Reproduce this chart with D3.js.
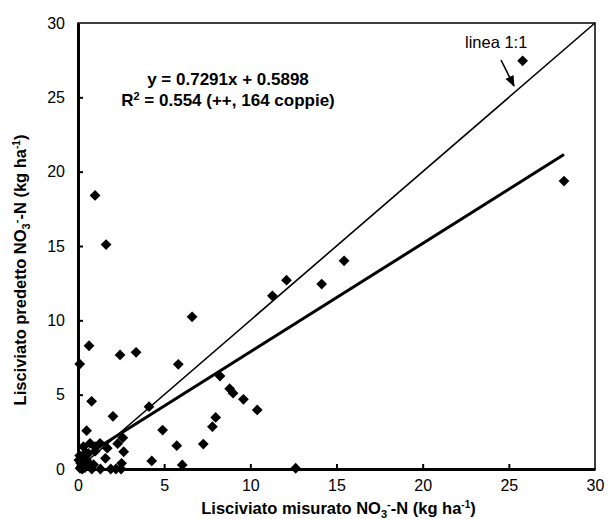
<!DOCTYPE html>
<html>
<head>
<meta charset="utf-8">
<script src="https://cdn.jsdelivr.net/npm/d3@7"></script>
<style>
	body { margin: 0; background: #fff; }
	text { font-family: "Liberation Sans", Arial, sans-serif; fill: #000; }
</style>
</head>
<body>
<div id="chart"></div>
<script>

// measured (x) and predicted (y) NO3-N leaching, kg/ha
var measured = [25.8, 28.2, 0.99, 1.63, 15.44, 12.1, 14.14, 11.28, 6.62, 0.64,
	0.1, 2.44, 3.37, 5.82, 8.24, 8.8, 9.0, 9.6, 10.4, 0.79,
	2.03, 4.12, 0.5, 4.91, 7.99, 7.8, 5.73, 7.27, 2.6, 2.3,
	2.65, 4.28, 6.05, 1.59, 2.53, 12.63,
	0.8, 1.3, 1.9, 2.2, 2.5,
	0.7, 1.28, 0.99, 0.31, 0.21, 0.6, 0.6, 0.12, 0.3, 0.1,
	0.4, 0.2, 1.0, 0.5, 0.15, 1.7, 0.9, 0.05, 0.45, 0.25];
var predicted = [27.46, 19.37, 18.4, 15.1, 14.0, 12.7, 12.44, 11.65, 10.24, 8.29,
	7.06, 7.67, 7.85, 7.04, 6.25, 5.4, 5.1, 4.69, 3.97, 4.55,
	3.54, 4.19, 2.58, 2.62, 3.47, 2.85, 1.57, 1.68, 2.1, 1.7,
	1.16, 0.54, 0.27, 0.72, 0.38, 0.05,
	0.0, 0.0, 0.0, 0.0, 0.0,
	1.73, 1.73, 1.5, 1.5, 0.72, 1.05, 0.38, 0.05, 0.3, 0.9,
	0.1, 0.2, 1.2, 0.6, 0.4, 1.4, 0.3, 0.6, 1.1, 0.0];

var xTicks = [0, 5, 10, 15, 20, 25, 30];
var yTicks = [0, 5, 10, 15, 20, 25, 30];

var slope = 0.7291, intercept = 0.5898;
var fitRange = [0, 28.2];
var oneToOne = [0, 30];

var eqLine = "y = 0.7291x + 0.5898";
var r2Line = ["R", "2", " = 0.554 (++, 164 coppie)"];

var margin = { top: 23, right: 14, bottom: 50, left: 78 };
var width = 609 - margin.left - margin.right,
	height = 519 - margin.top - margin.bottom;

var svg = d3.select("#chart").append("svg")
	.attr("width", 609)
	.attr("height", 519)
	.append("g")
	.attr("transform", "translate(" + margin.left + "," + margin.top + ")");

var x = d3.scaleLinear().domain([0, 30]).range([0, width]);
var y = d3.scaleLinear().domain([0, 30]).range([height, 0]);

// frame (top/right thin, left/bottom heavy)
svg.append("rect")
	.attr("width", width).attr("height", height)
	.attr("fill", "none").attr("stroke", "#000").attr("stroke-width", 1.5);

var xAxis = d3.axisBottom(x).tickValues(xTicks).tickSizeInner(-5).tickSizeOuter(0).tickPadding(11);
var yAxis = d3.axisLeft(y).tickValues(yTicks).tickSizeInner(-5).tickSizeOuter(0).tickPadding(13);

var gx = svg.append("g").attr("transform", "translate(0," + height + ")").call(xAxis);
var gy = svg.append("g").call(yAxis);

[gx, gy].forEach(g => {
	g.select(".domain").attr("stroke-width", 3);
	g.selectAll(".tick line").attr("stroke-width", 2);
	g.selectAll(".tick text").attr("font-size", 16).attr("fill", "#000")
		.style("font-family", '"Liberation Sans", Arial, sans-serif');
});
// no tick mark at the ends
gx.selectAll(".tick line").filter(d => d === 0 || d === 30).remove();
gy.selectAll(".tick line").filter(d => d === 0 || d === 30).remove();

// points
var pts = measured.map((m, i) => ({ x: m, y: predicted[i] }));
var diamond = d3.symbol().type(d3.symbolSquare).size(58);
svg.selectAll(".pt").data(pts).enter().append("path")
	.attr("class", "pt")
	.attr("d", diamond)
	.attr("transform", d => "translate(" + x(d.x) + "," + y(d.y) + ") rotate(45)")
	.attr("fill", "#000");

// 1:1 line
svg.append("line")
	.attr("x1", x(oneToOne[0])).attr("y1", y(oneToOne[0]))
	.attr("x2", x(oneToOne[1])).attr("y2", y(oneToOne[1]))
	.attr("stroke", "#000").attr("stroke-width", 1.6);

// regression line
svg.append("line")
	.attr("x1", x(fitRange[0])).attr("y1", y(slope * fitRange[0] + intercept))
	.attr("x2", x(fitRange[1])).attr("y2", y(slope * fitRange[1] + intercept))
	.attr("stroke", "#000").attr("stroke-width", 3);

// equation text
svg.append("text")
	.attr("x", 150).attr("y", 62)
	.attr("text-anchor", "middle").attr("font-size", 17).attr("font-weight", "bold")
	.text(eqLine);

var r2 = svg.append("text")
	.attr("x", 150).attr("y", 83)
	.attr("text-anchor", "middle").attr("font-size", 17).attr("font-weight", "bold");
r2.append("tspan").text(r2Line[0]);
r2.append("tspan").attr("dy", -6).attr("font-size", 11).text(r2Line[1]);
r2.append("tspan").attr("dy", 6).text(r2Line[2]);

// linea 1:1 label and arrow
svg.append("defs").append("marker")
	.attr("id", "arrow").attr("viewBox", "0 0 10 10")
	.attr("refX", 9).attr("refY", 5)
	.attr("markerWidth", 7).attr("markerHeight", 7)
	.attr("orient", "auto")
	.append("path").attr("d", "M0,1 L10,5 L0,9 Z").attr("fill", "#000");

svg.append("text")
	.attr("x", 387).attr("y", 25)
	.attr("font-size", 16.5)
	.text("linea 1:1");

svg.append("line")
	.attr("x1", 423).attr("y1", 37)
	.attr("x2", 436).attr("y2", 63)
	.attr("stroke", "#000").attr("stroke-width", 1.6)
	.attr("marker-end", "url(#arrow)");

// axis titles
function addNO3(t) {
	t.append("tspan").text("NO");
	t.append("tspan").attr("font-size", 11).attr("dy", 4).text("3");
	t.append("tspan").attr("font-size", 11).attr("dy", -10).text("-");
	t.append("tspan").attr("dy", 6).text("-N (kg ha");
	t.append("tspan").attr("font-size", 10).attr("dy", -6).text("-1");
	t.append("tspan").attr("dy", 6).text(")");
}

var xt = svg.append("text")
	.attr("x", width / 2 + 2).attr("y", height + 45)
	.attr("text-anchor", "middle").attr("font-size", 16.5).attr("font-weight", "bold");
xt.append("tspan").text("Lisciviato misurato ");
addNO3(xt);

var yt = svg.append("text")
	.attr("transform", "translate(" + (-52) + "," + (270 - margin.top) + ") rotate(-90)")
	.attr("text-anchor", "middle").attr("font-size", 16.5).attr("font-weight", "bold");
yt.append("tspan").text("Lisciviato predetto ");
addNO3(yt);

</script>
</body>
</html>
